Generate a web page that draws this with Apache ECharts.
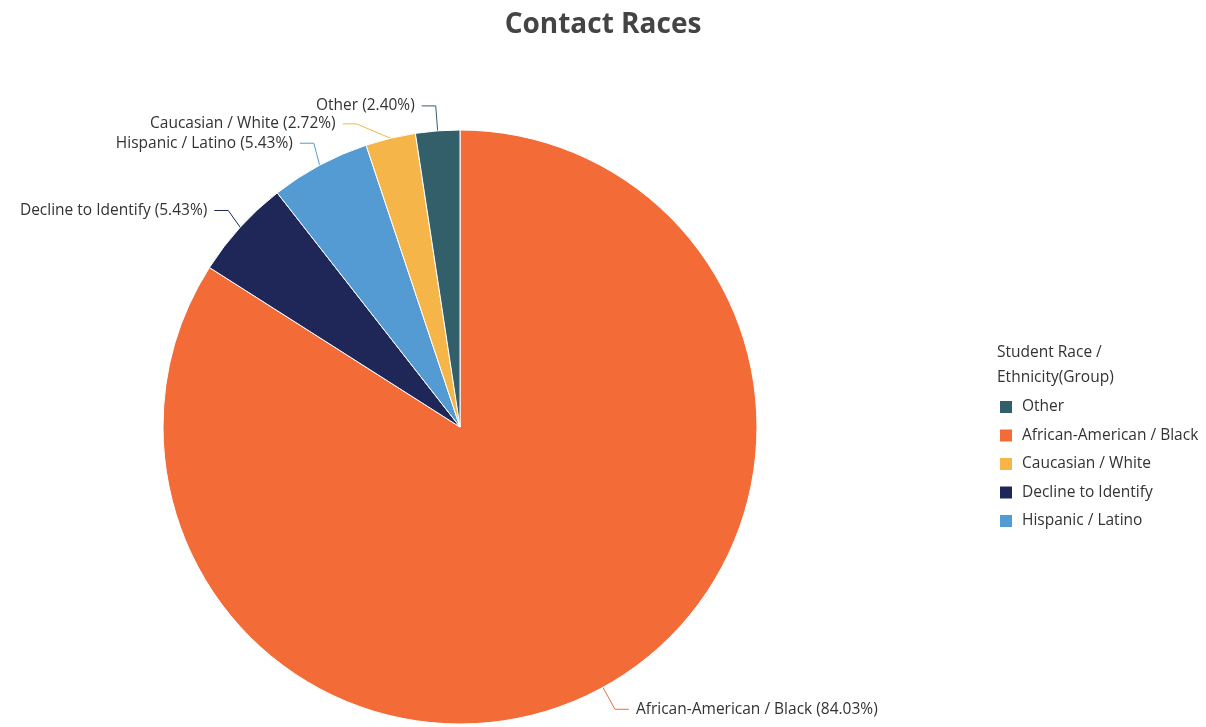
<!DOCTYPE html>
<html>
<head>
<meta charset="utf-8">
<title>Contact Races</title>
<script src="https://cdn.jsdelivr.net/npm/echarts@6/dist/echarts.min.js"></script>
<style>
  html, body { margin: 0; padding: 0; background: #fff; }
  #chart { width: 1206px; height: 727px; }
</style>
</head>
<body>
<div id="chart"></div>
<script>
// Share of contacts by student race / ethnicity (percent), clockwise from 12 o'clock
const categories = ['African-American / Black', 'Decline to Identify', 'Hispanic / Latino', 'Caucasian / White', 'Other'];
const percents = [84.03, 5.43, 5.43, 2.72, 2.40];
const legendOrder = ['Other', 'African-American / Black', 'Caucasian / White', 'Decline to Identify', 'Hispanic / Latino'];

const colorMap = {
  'African-American / Black': '#f36c38',
  'Decline to Identify': '#1f2759',
  'Hispanic / Latino': '#559bd3',
  'Caucasian / White': '#f5b549',
  'Other': '#335f6b'
};

const FONT = 'Open Sans';
const FS = 15.5;

const chart = echarts.init(document.getElementById('chart'));
chart.setOption({
  animation: false,
  textStyle: { fontFamily: FONT },
  title: [
    {
      text: 'Contact Races',
      left: 'center',
      top: 6,
      textStyle: { fontFamily: FONT, fontSize: 28, fontWeight: 'bold', color: '#444' }
    },
    {
      text: 'Student Race /\nEthnicity(Group)',
      left: 997,
      top: 340,
      padding: 0,
      textStyle: { fontFamily: FONT, fontSize: FS, fontWeight: 'normal', color: '#333', lineHeight: 25 }
    }
  ],
  legend: {
    orient: 'vertical',
    left: 998,
    top: 399,
    padding: 0,
    itemWidth: 14,
    itemHeight: 14,
    itemGap: 12.5,
    icon: 'rect',
    data: legendOrder,
    textStyle: { fontFamily: FONT, fontSize: FS, color: '#333', padding: [0, 0, 0, 4] }
  },
  series: [{
    type: 'pie',
    center: [460, 427],
    radius: [0, 297],
    startAngle: 90,
    clockwise: true,
    avoidLabelOverlap: true,
    itemStyle: { borderColor: '#fff', borderWidth: 1 },
    label: {
      show: true,
      formatter: p => p.name + ' (' + p.value.toFixed(2) + '%)',
      fontFamily: FONT,
      fontSize: FS,
      color: '#333',
      distanceToLabelLine: 7
    },
    labelLine: { show: true, length: 25, length2: 14, lineStyle: { width: 1 } },
    data: categories.map((name, i) => ({
      name: name,
      value: percents[i],
      itemStyle: { color: colorMap[name] }
    }))
  }]
});
</script>
</body>
</html>
